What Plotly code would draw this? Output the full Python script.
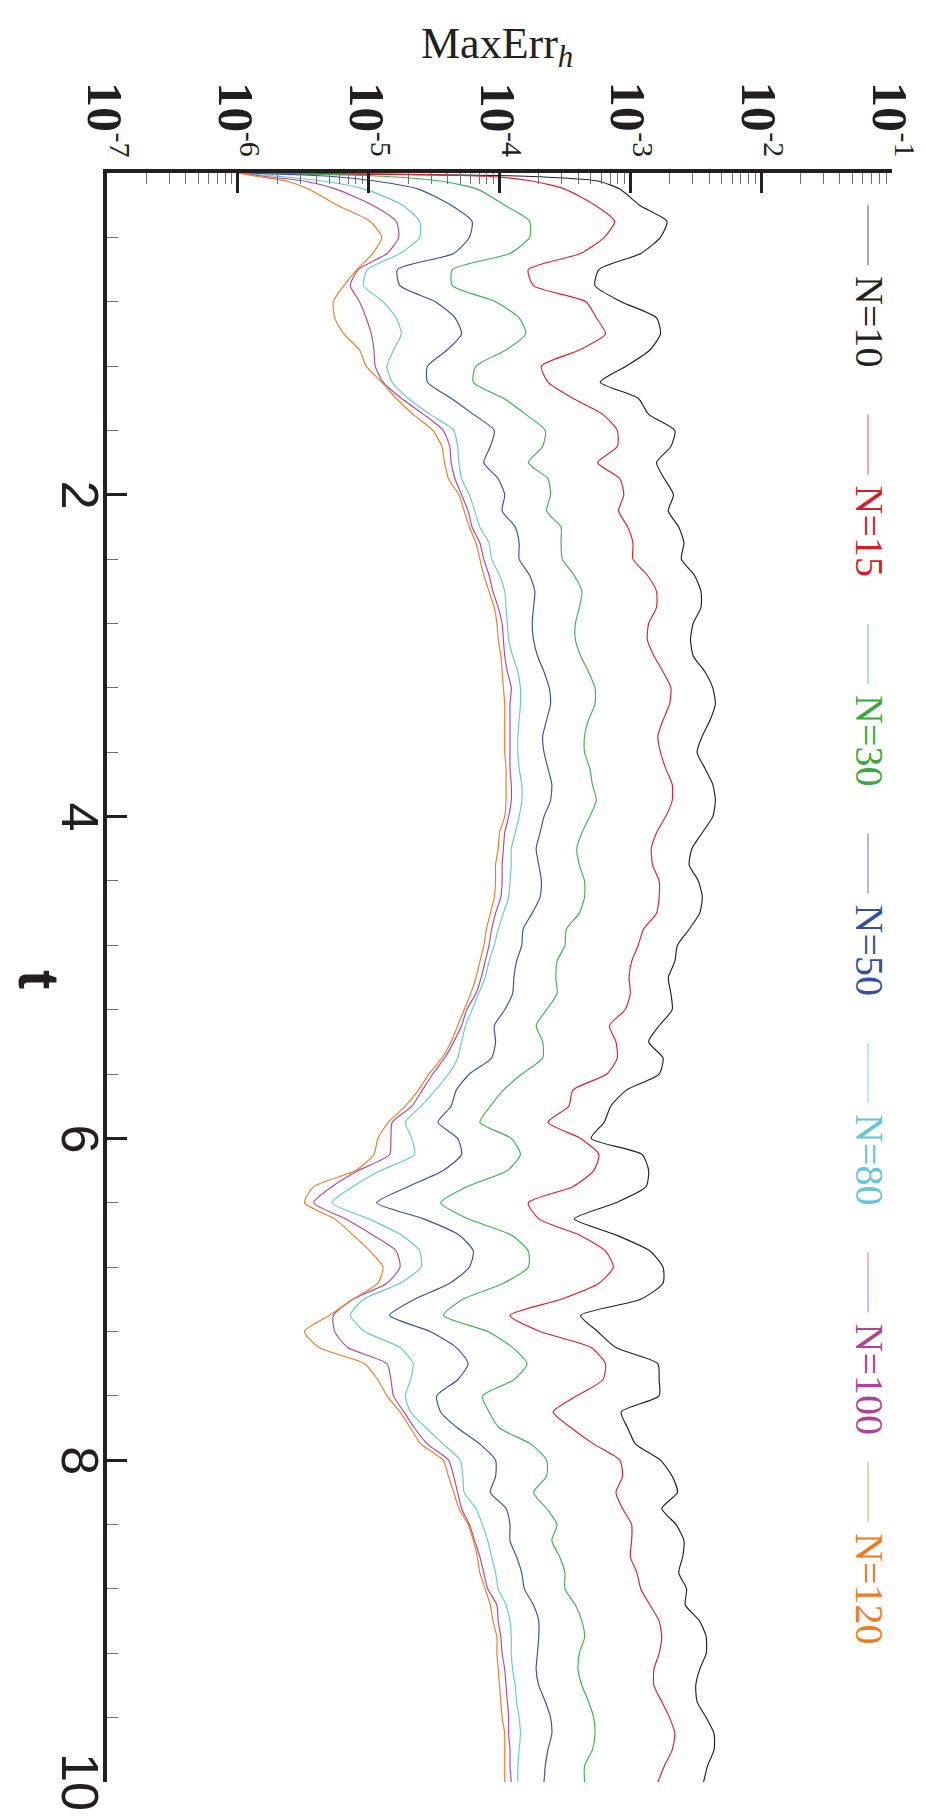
import plotly.graph_objects as go

# time grid (t)
t = [0, 0.02, 0.05,
     0.1, 0.2, 0.3, 0.4, 0.5, 0.6, 0.7, 0.8, 0.9, 1.0,
     1.1, 1.2, 1.3, 1.4, 1.5, 1.6, 1.7, 1.8, 1.9, 2.0,
     2.1, 2.2, 2.3, 2.4, 2.5, 2.6, 2.7, 2.8, 2.9, 3.0,
     3.1, 3.2, 3.3, 3.4, 3.5, 3.6, 3.7, 3.8, 3.9, 4.0,
     4.1, 4.2, 4.3, 4.4, 4.5, 4.6, 4.7, 4.8, 4.9, 5.0,
     5.1, 5.2, 5.3, 5.4, 5.5, 5.6, 5.7, 5.8, 5.9, 6.0,
     6.1, 6.2, 6.3, 6.4, 6.5, 6.6, 6.7, 6.8, 6.9, 7.0,
     7.1, 7.2, 7.3, 7.4, 7.5, 7.6, 7.7, 7.8, 7.9, 8.0,
     8.1, 8.2, 8.3, 8.4, 8.5, 8.6, 8.7, 8.8, 8.9, 9.0,
     9.1, 9.2, 9.3, 9.4, 9.5, 9.6, 9.7, 9.8, 9.9, 10.0]

# log10(MaxErr_h)
log_err_N10 = [-6.0, -3.8, -3.25,
    -3.08, -2.93, -2.72, -2.77, -2.92, -3.24, -3.27, -3.07, -2.80, -2.77,
    -2.85, -3.03, -3.23, -2.94, -2.86, -2.66, -2.69, -2.80, -2.74, -2.67,
    -2.71, -2.63, -2.59, -2.61, -2.51, -2.46, -2.46, -2.52, -2.54, -2.52,
    -2.43, -2.37, -2.35, -2.39, -2.45, -2.49, -2.43, -2.37, -2.35, -2.37,
    -2.45, -2.53, -2.55, -2.48, -2.45, -2.47, -2.55, -2.64, -2.66, -2.71,
    -2.69, -2.68, -2.78, -2.86, -2.75, -2.78, -3.03, -3.15, -3.20, -3.30,
    -2.91, -2.86, -2.88, -3.11, -3.43, -3.11, -2.85, -2.75, -2.75, -2.92,
    -3.38, -3.25, -3.11, -2.79, -2.78, -2.78, -3.07, -3.02, -2.96, -2.77,
    -2.68, -2.64, -2.76, -2.65, -2.59, -2.60, -2.63, -2.57, -2.58, -2.47,
    -2.42, -2.42, -2.47, -2.50, -2.49, -2.42, -2.36, -2.36, -2.41, -2.44]

log_err_N15 = [-6.0, -4.1, -3.75,
    -3.50, -3.27, -3.12, -3.20, -3.38, -3.78, -3.74, -3.34, -3.26, -3.19,
    -3.39, -3.68, -3.63, -3.44, -3.21, -3.10, -3.10, -3.25, -3.08, -3.05,
    -3.09, -3.02, -2.98, -2.98, -2.87, -2.80, -2.80, -2.86, -2.87, -2.82,
    -2.75, -2.69, -2.70, -2.75, -2.79, -2.77, -2.73, -2.68, -2.68, -2.73,
    -2.80, -2.84, -2.83, -2.78, -2.78, -2.80, -2.90, -2.94, -2.99, -3.01,
    -3.00, -3.04, -3.16, -3.11, -3.10, -3.18, -3.44, -3.47, -3.63, -3.38,
    -3.24, -3.28, -3.44, -3.78, -3.70, -3.39, -3.19, -3.13, -3.24, -3.53,
    -3.92, -3.69, -3.30, -3.19, -3.21, -3.41, -3.59, -3.45, -3.28, -3.08,
    -3.06, -3.11, -3.06, -2.99, -2.99, -3.00, -2.95, -2.92, -2.85, -2.78,
    -2.76, -2.78, -2.82, -2.82, -2.76, -2.70, -2.66, -2.68, -2.74, -2.79]

log_err_N30 = [-6.0, -4.9, -4.45,
    -4.17, -3.96, -3.77, -3.77, -3.92, -4.36, -4.36, -4.03, -3.85, -3.80,
    -3.95, -4.18, -4.20, -3.97, -3.80, -3.65, -3.67, -3.78, -3.63, -3.61,
    -3.64, -3.53, -3.53, -3.52, -3.43, -3.37, -3.39, -3.42, -3.42, -3.38,
    -3.32, -3.27, -3.27, -3.32, -3.35, -3.35, -3.31, -3.29, -3.26, -3.31,
    -3.37, -3.41, -3.39, -3.35, -3.35, -3.39, -3.49, -3.50, -3.56, -3.57,
    -3.56, -3.64, -3.72, -3.67, -3.67, -3.83, -3.97, -4.07, -4.15, -3.91,
    -3.84, -3.94, -4.25, -4.45, -4.24, -3.91, -3.78, -3.78, -3.97, -4.28,
    -4.43, -4.09, -3.90, -3.79, -3.89, -4.13, -4.08, -4.00, -3.76, -3.64,
    -3.64, -3.74, -3.64, -3.56, -3.60, -3.54, -3.50, -3.50, -3.42, -3.37,
    -3.35, -3.39, -3.40, -3.37, -3.32, -3.28, -3.27, -3.29, -3.35, -3.35]

log_err_N50 = [-6.0, -5.3, -4.95,
    -4.62, -4.37, -4.21, -4.23, -4.35, -4.78, -4.76, -4.49, -4.34, -4.29,
    -4.40, -4.55, -4.55, -4.37, -4.20, -4.04, -4.07, -4.12, -4.01, -3.96,
    -3.98, -3.88, -3.85, -3.85, -3.77, -3.73, -3.74, -3.75, -3.74, -3.71,
    -3.66, -3.62, -3.61, -3.64, -3.67, -3.66, -3.63, -3.60, -3.61, -3.66,
    -3.69, -3.72, -3.70, -3.68, -3.69, -3.75, -3.82, -3.83, -3.87, -3.89,
    -3.90, -3.96, -4.04, -4.03, -4.06, -4.23, -4.33, -4.37, -4.47, -4.32,
    -4.29, -4.43, -4.70, -4.94, -4.58, -4.31, -4.20, -4.23, -4.38, -4.65,
    -4.84, -4.53, -4.33, -4.24, -4.32, -4.48, -4.45, -4.32, -4.15, -4.03,
    -4.03, -4.07, -3.95, -3.92, -3.92, -3.87, -3.83, -3.81, -3.74, -3.70,
    -3.70, -3.71, -3.72, -3.70, -3.65, -3.61, -3.60, -3.63, -3.65, -3.66]

log_err_N80 = [-6.0, -5.7, -5.35,
    -5.03, -4.74, -4.61, -4.61, -4.76, -5.01, -5.04, -4.89, -4.79, -4.75,
    -4.81, -4.86, -4.82, -4.70, -4.53, -4.35, -4.32, -4.31, -4.29, -4.23,
    -4.19, -4.15, -4.08, -4.06, -4.00, -3.96, -3.95, -3.94, -3.93, -3.90,
    -3.86, -3.84, -3.84, -3.85, -3.86, -3.86, -3.85, -3.83, -3.83, -3.85,
    -3.88, -3.91, -3.91, -3.92, -3.93, -3.97, -4.01, -4.04, -4.08, -4.11,
    -4.16, -4.21, -4.26, -4.29, -4.32, -4.39, -4.49, -4.60, -4.72, -4.67,
    -4.65, -4.91, -5.12, -5.28, -5.00, -4.75, -4.61, -4.60, -4.76, -5.04,
    -5.14, -5.03, -4.76, -4.66, -4.68, -4.72, -4.68, -4.56, -4.43, -4.30,
    -4.28, -4.27, -4.18, -4.13, -4.09, -4.06, -4.03, -4.01, -3.95, -3.92,
    -3.91, -3.91, -3.90, -3.88, -3.87, -3.85, -3.84, -3.85, -3.86, -3.86]

log_err_N100 = [-6.0, -5.80, -5.50,
    -5.25, -4.97, -4.79, -4.77, -4.86, -5.08, -5.14, -5.07, -5.02, -4.98,
    -4.96, -4.95, -4.89, -4.75, -4.58, -4.43, -4.38, -4.37, -4.34, -4.29,
    -4.24, -4.21, -4.15, -4.12, -4.08, -4.05, -4.01, -3.98, -3.97, -3.96,
    -3.94, -3.91, -3.92, -3.92, -3.92, -3.92, -3.92, -3.91, -3.91, -3.93,
    -3.96, -3.97, -3.98, -3.98, -3.99, -4.03, -4.06, -4.08, -4.11, -4.14,
    -4.18, -4.25, -4.29, -4.35, -4.42, -4.51, -4.59, -4.67, -4.82, -4.83,
    -4.84, -5.08, -5.28, -5.42, -5.18, -4.97, -4.79, -4.76, -4.86, -5.12,
    -5.27, -5.26, -5.16, -4.86, -4.83, -4.81, -4.73, -4.65, -4.55, -4.39,
    -4.35, -4.32, -4.29, -4.23, -4.19, -4.15, -4.12, -4.09, -4.02, -4.01,
    -3.99, -3.98, -3.96, -3.95, -3.94, -3.93, -3.93, -3.92, -3.92, -3.91]

log_err_N120 = [-6.0, -5.86, -5.63,
    -5.46, -5.24, -4.99, -4.90, -4.97, -5.09, -5.19, -5.27, -5.26, -5.19,
    -5.07, -5.02, -4.90, -4.79, -4.66, -4.51, -4.44, -4.42, -4.39, -4.31,
    -4.27, -4.23, -4.18, -4.15, -4.12, -4.08, -4.04, -4.02, -4.01, -3.99,
    -3.98, -3.97, -3.96, -3.96, -3.96, -3.96, -3.95, -3.95, -3.95, -3.96,
    -4.00, -4.01, -4.03, -4.03, -4.04, -4.07, -4.10, -4.12, -4.15, -4.18,
    -4.22, -4.27, -4.32, -4.37, -4.44, -4.54, -4.62, -4.72, -4.85, -4.93,
    -4.96, -5.10, -5.42, -5.49, -5.26, -5.12, -4.99, -4.89, -4.93, -5.12,
    -5.30, -5.49, -5.38, -5.03, -4.93, -4.86, -4.76, -4.68, -4.60, -4.43,
    -4.39, -4.35, -4.31, -4.24, -4.20, -4.17, -4.15, -4.11, -4.07, -4.05,
    -4.02, -4.02, -4.01, -4.00, -3.99, -3.98, -3.96, -3.96, -3.96, -3.96]

series_names = ["N=10", "N=15", "N=30", "N=50", "N=80", "N=100", "N=120"]
series_logs = [log_err_N10, log_err_N15, log_err_N30, log_err_N50,
               log_err_N80, log_err_N100, log_err_N120]
line_colors = ["#231f20", "#e31e26", "#3ab54a", "#3650a2", "#62c8dc", "#b2469e", "#f47a20"]
text_colors = ["#231f20", "#d31f2a", "#3aa83f", "#344f9f", "#63c6da", "#ad4499", "#f07a1e"]

x_tick_exps = [-7, -6, -5, -4, -3, -2, -1]
y_tick_vals = [0, 2, 4, 6, 8, 10]
y_label_vals = [2, 4, 6, 8, 10]

W, H = 926, 1818
ML, MR, MT, MB = 107, 34, 173, 36
PW, PH = W - ML - MR, H - MT - MB


def px(x):
    return (x - ML) / PW


def py(y):
    return 1 - (y - MT) / PH


fig = go.Figure()
for name, lg, col in zip(series_names, series_logs, line_colors):
    fig.add_trace(go.Scatter(
        x=[10 ** v for v in lg], y=t, mode="lines", name=name,
        line=dict(color=col, width=1.15, shape="spline", smoothing=0.6),
        showlegend=False))

axis_col = "#231f20"
fig.update_xaxes(
    type="log", range=[-7, -1], side="top",
    showline=True, linewidth=3.5, linecolor=axis_col, mirror=False,
    showgrid=False, zeroline=False,
    tickmode="array", tickvals=[10 ** e for e in x_tick_exps],
    showticklabels=False,
    ticks="inside", ticklen=20, tickwidth=3, tickcolor=axis_col,
    minor=dict(ticks="inside", ticklen=11, tickwidth=1, tickcolor="#6d6e71",
               dtick="D1", showgrid=False),
)
fig.update_yaxes(
    range=[10, 0], showline=True, linewidth=3.5, linecolor=axis_col, mirror=False,
    showgrid=False, zeroline=False,
    tickmode="array", tickvals=y_tick_vals, showticklabels=False,
    ticks="inside", ticklen=20, tickwidth=3, tickcolor=axis_col,
    minor=dict(ticks="inside", ticklen=11, tickwidth=1, tickcolor="#6d6e71",
               dtick=0.4, tick0=0, showgrid=False),
)

annotations = [
    dict(text="MaxErr<sub><i>h</i></sub>", x=px(497), y=py(46), xref="paper", yref="paper",
         xanchor="center", yanchor="middle", showarrow=False,
         font=dict(family="Liberation Serif", size=44, color=axis_col)),
    dict(text="t", x=px(40), y=py(979), xref="paper", yref="paper",
         xanchor="center", yanchor="middle", showarrow=False, textangle=90,
         font=dict(family="Liberation Sans", size=58, color=axis_col, weight="bold")),
]
# rotated t labels (left axis)
for v in y_label_vals:
    annotations.append(dict(
        text=str(v), x=px(80), xref="paper", y=v, yref="y",
        xanchor="center", yanchor="middle", showarrow=False, textangle=90,
        font=dict(family="Liberation Sans", size=52, color=axis_col)))
# rotated decade labels of the MaxErr axis: base "10" and its exponent
for e in x_tick_exps:
    annotations.append(dict(
        text="10", x=e, xref="x", y=py(80), yref="paper",
        xanchor="center", yanchor="top", showarrow=False, textangle=90, xshift=-2,
        font=dict(family="Liberation Serif", size=50, color=axis_col, weight="bold")))
    annotations.append(dict(
        text="-%d" % abs(e), x=e, xref="x", y=py(130), yref="paper",
        xanchor="center", yanchor="top", showarrow=False, textangle=90, xshift=13,
        font=dict(family="Liberation Serif", size=30, color=axis_col)))

shapes = []
for i, (name, lcol, tcol) in enumerate(zip(series_names, line_colors, text_colors)):
    y0 = 205 + 209.5 * i
    shapes.append(dict(type="line", xref="paper", yref="paper",
                       x0=px(868), x1=px(868), y0=py(y0), y1=py(y0 + 60),
                       line=dict(color=lcol, width=1.3), opacity=0.6))
    annotations.append(dict(text=name, x=px(869.5), y=py(y0 + 69), xref="paper", yref="paper",
                            xanchor="center", yanchor="top", showarrow=False, textangle=90,
                            font=dict(family="Liberation Serif", size=40, color=tcol)))

fig.update_layout(
    width=W, height=H, margin=dict(l=ML, r=MR, t=MT, b=MB, pad=0),
    paper_bgcolor="white", plot_bgcolor="white",
    annotations=annotations, shapes=shapes, showlegend=False,
)

fig.write_html("out.html")
